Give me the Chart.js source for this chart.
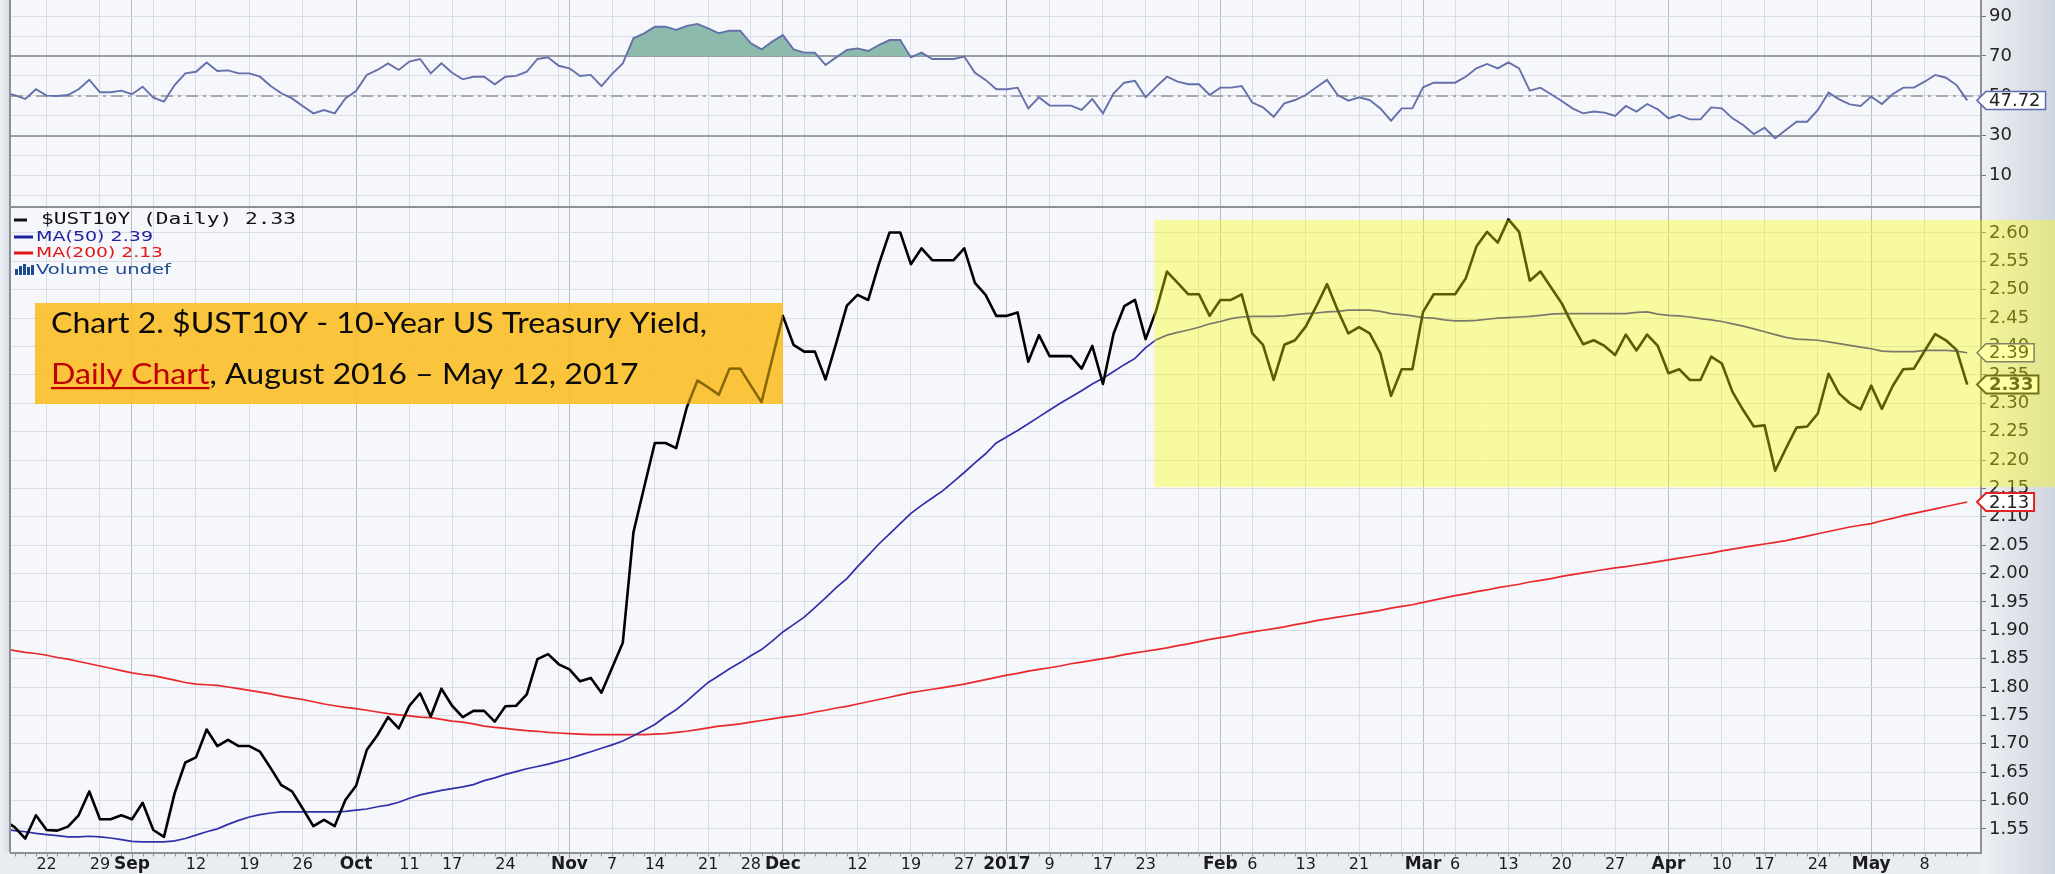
<!DOCTYPE html>
<html>
<head>
<meta charset="utf-8">
<style>
html,body{margin:0;padding:0;background:#e8ebf0;overflow:hidden}
#wrap{position:relative;width:2055px;height:874px}
canvas{display:block}
</style>
<script src="https://cdn.jsdelivr.net/npm/chart.js@4.4.1/dist/chart.umd.min.js"></script>
</head>
<body>
<div id="wrap"><canvas id="c" width="2055" height="874"></canvas></div>
<script>
// ---------------- DATA ----------------
const startDate = '2016-08-16';
const endDate = '2017-05-12';
const holidays = ['2016-09-05','2016-10-10','2016-11-11','2016-11-24','2016-12-26','2017-01-02','2017-01-16','2017-02-20','2017-04-14'];

const yieldValues = [
1.565,1.553,1.533,1.574,1.548,1.547,1.554,1.574,1.616,1.567,
1.567,1.574,1.567,1.596,1.548,1.536,1.613,1.667,1.676,1.725,
1.696,1.707,1.696,1.696,1.686,1.657,1.627,1.616,1.586,1.555,
1.566,1.555,1.601,1.626,1.689,1.715,1.747,1.727,1.767,1.789,
1.748,1.797,1.767,1.747,1.758,1.758,1.739,1.766,1.767,1.787,
1.849,1.858,1.840,1.831,1.810,1.816,1.790,1.834,1.878,2.073,
2.152,2.230,2.230,2.221,2.293,2.340,2.328,2.315,2.361,2.361,
2.331,2.302,2.378,2.454,2.403,2.391,2.391,2.342,2.406,2.472,
2.491,2.482,2.545,2.601,2.601,2.545,2.573,2.552,2.552,2.552,
2.573,2.512,2.491,2.454,2.454,2.460,2.373,2.420,2.383,2.383,
2.383,2.361,2.401,2.334,2.423,2.471,2.482,2.413,2.464,2.532,
2.512,2.492,2.492,2.454,2.482,2.482,2.492,2.423,2.403,2.341,
2.403,2.411,2.435,2.471,2.510,2.464,2.423,2.434,2.423,2.388,
2.313,2.360,2.360,2.461,2.492,2.492,2.492,2.520,2.576,2.602,
2.583,2.624,2.602,2.516,2.532,2.504,2.476,2.438,2.404,2.411,
2.401,2.385,2.421,2.393,2.421,2.401,2.353,2.360,2.341,2.341,
2.382,2.370,2.320,2.288,2.259,2.261,2.181,2.220,2.257,2.259,
2.282,2.352,2.317,2.300,2.289,2.331,2.290,2.330,2.360,2.361,
2.392,2.422,2.411,2.394,2.333];

const ma50Values = [
1.550,1.547,1.545,1.542,1.540,1.538,1.536,1.536,1.537,1.536,
1.534,1.531,1.528,1.527,1.527,1.527,1.529,1.533,1.539,1.545,
1.550,1.558,1.565,1.571,1.575,1.578,1.580,1.580,1.580,1.580,
1.580,1.580,1.581,1.583,1.585,1.589,1.592,1.597,1.604,1.610,
1.614,1.618,1.621,1.624,1.628,1.635,1.640,1.646,1.651,1.656,
1.660,1.664,1.669,1.674,1.680,1.686,1.692,1.698,1.705,1.714,
1.724,1.734,1.748,1.760,1.775,1.792,1.808,1.820,1.832,1.843,
1.855,1.866,1.881,1.897,1.910,1.923,1.940,1.957,1.975,1.991,
2.012,2.032,2.052,2.070,2.088,2.106,2.120,2.133,2.146,2.162,
2.178,2.195,2.211,2.230,2.241,2.252,2.264,2.276,2.288,2.300,
2.311,2.322,2.334,2.344,2.356,2.368,2.379,2.398,2.412,2.420,
2.425,2.429,2.434,2.440,2.444,2.449,2.452,2.453,2.453,2.453,
2.454,2.456,2.458,2.459,2.461,2.462,2.464,2.464,2.464,2.462,
2.458,2.456,2.454,2.451,2.450,2.447,2.445,2.445,2.446,2.448,
2.450,2.451,2.452,2.453,2.455,2.457,2.458,2.458,2.458,2.458,
2.458,2.458,2.458,2.460,2.461,2.457,2.455,2.454,2.452,2.449,
2.447,2.444,2.440,2.436,2.431,2.426,2.421,2.416,2.413,2.412,
2.411,2.408,2.405,2.402,2.399,2.396,2.392,2.391,2.391,2.391,
2.393,2.393,2.393,2.392,2.389];

const ma200Values = [
1.868,1.864,1.861,1.859,1.856,1.852,1.849,1.845,1.841,1.837,
1.833,1.829,1.825,1.822,1.820,1.816,1.812,1.808,1.805,1.804,
1.803,1.800,1.797,1.794,1.791,1.788,1.784,1.781,1.778,1.774,
1.770,1.767,1.764,1.762,1.759,1.756,1.753,1.751,1.749,1.747,
1.746,1.743,1.740,1.738,1.735,1.731,1.729,1.727,1.725,1.723,
1.722,1.720,1.719,1.718,1.717,1.716,1.716,1.716,1.716,1.716,
1.716,1.717,1.718,1.720,1.722,1.725,1.728,1.731,1.733,1.735,
1.738,1.741,1.744,1.747,1.749,1.752,1.756,1.759,1.763,1.766,
1.770,1.774,1.778,1.782,1.786,1.790,1.793,1.796,1.799,1.802,
1.805,1.809,1.813,1.817,1.821,1.824,1.828,1.831,1.834,1.837,
1.841,1.844,1.847,1.850,1.853,1.857,1.860,1.863,1.866,1.869,
1.873,1.876,1.880,1.884,1.887,1.890,1.894,1.897,1.900,1.903,
1.906,1.910,1.913,1.917,1.920,1.923,1.926,1.929,1.932,1.935,
1.939,1.942,1.945,1.949,1.953,1.957,1.961,1.964,1.968,1.971,
1.975,1.978,1.981,1.985,1.988,1.991,1.995,1.998,2.001,2.004,
2.007,2.010,2.012,2.015,2.018,2.021,2.024,2.027,2.030,2.033,
2.036,2.040,2.043,2.046,2.049,2.052,2.055,2.058,2.062,2.066,
2.070,2.074,2.078,2.082,2.085,2.088,2.093,2.097,2.102,2.106,
2.110,2.114,2.118,2.122,2.126];

const rsiValues = [
51.5,50.4,48.4,53.3,50.1,49.9,50.4,53.3,58.0,51.8,
51.8,52.6,50.8,54.6,49.1,47.1,55.4,61.3,62.1,66.7,
62.5,62.8,61.3,61.3,59.6,54.9,51.3,48.7,44.9,41.2,
42.9,41.2,48.7,52.4,60.5,63.0,66.3,63.0,67.2,68.5,
61.3,66.3,61.6,58.3,59.6,59.6,55.8,59.6,60.0,62.1,
68.5,69.3,65.1,63.8,60.0,60.5,54.9,61.0,66.3,78.9,
81.4,84.7,84.7,83.1,85.1,86.1,83.9,81.4,82.7,82.7,
76.4,73.3,77.2,80.5,73.3,71.7,71.7,65.5,69.3,73.0,
73.8,72.5,75.5,78.0,78.0,69.3,71.7,68.5,68.5,68.5,
69.7,61.6,58.0,53.3,53.3,54.1,43.7,49.3,45.1,45.1,
45.1,42.9,48.4,41.2,51.3,56.6,57.5,49.3,54.6,59.6,
57.1,55.8,55.8,50.4,54.1,54.1,54.9,46.6,44.2,39.5,
46.2,47.9,50.4,54.3,58.0,50.4,47.6,49.3,47.9,43.7,
37.5,43.7,43.7,54.3,56.6,56.6,56.6,59.6,63.8,66.0,
63.8,66.8,63.8,52.6,54.1,50.8,47.4,43.7,41.2,42.1,
41.6,39.9,44.9,42.1,45.9,43.2,38.7,40.4,38.2,38.2,
44.2,43.7,38.7,35.4,30.8,34.0,28.7,32.9,37.0,37.0,
42.9,51.6,48.2,45.7,44.9,49.6,45.9,50.8,54.1,54.1,
57.1,60.5,59.1,55.4,47.72];

const priceTickLabels = ['1.55','1.60','1.65','1.70','1.75','1.80','1.85','1.90','1.95','2.00','2.05','2.10','2.15','2.20','2.25','2.30','2.35','2.40','2.45','2.50','2.55','2.60'];
const rsiGridValues = [0,10,20,30,40,50,60,70,80,90];
const rsiTickLabels = ['10','30','50','70','90'];
const labelDates = ['2016-08-22','2016-08-29','2016-09-01','2016-09-12','2016-09-19','2016-09-26','2016-10-03','2016-10-11','2016-10-17','2016-10-24','2016-11-01','2016-11-07','2016-11-14','2016-11-21','2016-11-28','2016-12-01','2016-12-12','2016-12-19','2016-12-27','2017-01-03','2017-01-09','2017-01-17','2017-01-23','2017-02-01','2017-02-06','2017-02-13','2017-02-21','2017-03-01','2017-03-06','2017-03-13','2017-03-20','2017-03-27','2017-04-03','2017-04-10','2017-04-17','2017-04-24','2017-05-01','2017-05-08'];
const monthNames = ['Jan','Feb','Mar','Apr','May','Jun','Jul','Aug','Sep','Oct','Nov','Dec'];

// ---------------- CALENDAR ----------------
function buildDays(s, e, hol){
  const out=[]; let d=new Date(s+'T00:00:00Z'); const end=new Date(e+'T00:00:00Z');
  while(d<=end){ const wd=d.getUTCDay(); const iso=d.toISOString().slice(0,10);
    if(wd!==0&&wd!==6&&!hol.includes(iso)) out.push(iso);
    d=new Date(d.getTime()+86400000); }
  return out;
}
const days = buildDays(startDate, endDate, holidays);
const dow = iso => new Date(iso+'T00:00:00Z').getUTCDay();
const isMonthStart = i => i>0 && days[i].slice(0,7)!==days[i-1].slice(0,7);
const isWeekStart = i => i>0 && dow(days[i]) <= dow(days[i-1]);
const gridIdx = []; const monthSet = new Set();
days.forEach((d,i)=>{ if(isMonthStart(i)) monthSet.add(i); if(isMonthStart(i)||isWeekStart(i)) gridIdx.push(i); });
const xLabels = labelDates.map(d=>{
  const i=days.indexOf(d); const m=parseInt(d.slice(5,7),10)-1;
  let text, bold=false;
  if(isMonthStart(i)){ bold=true; text = m===0 ? d.slice(0,4) : monthNames[m]; }
  else text = String(parseInt(d.slice(8,10),10));
  return {i, text, bold};
});

const pts = arr => arr.map((v,i)=>({x:i,y:v}));

// ---------------- PLUGIN ----------------
const FONT = "'DejaVu Sans', Verdana, sans-serif";
function fitText(ctx, text, x, y, w){
  const m = ctx.measureText(text).width; ctx.save(); ctx.translate(x,y); ctx.scale(w/m,1); ctx.fillText(text,0,0); ctx.restore();
}
function tag(ctx, xr, y, text, stroke, bold, lw){
  ctx.save();
  ctx.font = (bold?'bold ':'')+"18px "+FONT;
  const tw = ctx.measureText(text).width;
  const x0 = xr - 4, x1 = xr + 5, x2 = x1 + tw + 8, h = 9;
  ctx.beginPath(); ctx.moveTo(x0,y); ctx.lineTo(x1,y-h); ctx.lineTo(x2,y-h); ctx.lineTo(x2,y+h); ctx.lineTo(x1,y+h); ctx.closePath();
  ctx.fillStyle='#ffffff'; ctx.fill(); ctx.lineWidth=lw; ctx.strokeStyle=stroke; ctx.stroke();
  ctx.fillStyle='#222'; ctx.textBaseline='middle'; ctx.textAlign='left'; ctx.fillText(text, x1+3, y+1);
  ctx.restore();
}
const noPad = s => { s.paddingTop = 0; s.paddingBottom = 0; };
const deco = {
  id:'deco',
  beforeDraw(chart){
    const ctx=chart.ctx, a=chart.chartArea, W=chart.width, H=chart.height;
    ctx.save();
    ctx.fillStyle='#e9ecf1'; ctx.fillRect(0,0,W,H);
    const g=ctx.createLinearGradient(a.right,0,W,0); g.addColorStop(0,'#eef0f4'); g.addColorStop(1,'#cfd5df');
    ctx.fillStyle=g; ctx.fillRect(a.right,0,W-a.right,H);
    const gl=ctx.createLinearGradient(0,0,a.left,0); gl.addColorStop(0,'#eceff4'); gl.addColorStop(1,'#d4d9e1');
    ctx.fillStyle=gl; ctx.fillRect(0,0,a.left,a.bottom);
    ctx.fillStyle='#f5f7fb'; ctx.fillRect(a.left,a.top,a.right-a.left,a.bottom-a.top);
    ctx.restore();
  },
  beforeDatasetsDraw(chart){
    const ctx=chart.ctx, a=chart.chartArea, r=chart.scales.yRsi;
    ctx.save();
    ctx.strokeStyle='#9b9ea4'; ctx.lineWidth=2;
    [70,30].forEach(v=>{ const y=Math.round(r.getPixelForValue(v)); ctx.beginPath(); ctx.moveTo(a.left,y); ctx.lineTo(a.right,y); ctx.stroke(); });
    ctx.setLineDash([12,5,3,5]); ctx.strokeStyle='#a5a8ae';
    const y5=Math.round(r.getPixelForValue(50)); ctx.beginPath(); ctx.moveTo(a.left,y5); ctx.lineTo(a.right,y5); ctx.stroke();
    ctx.restore();
  },
  afterDatasetsDraw(chart){
    const ctx=chart.ctx, a=chart.chartArea, x=chart.scales.x, r=chart.scales.yRsi;
    ctx.save();
    ctx.strokeStyle='#8d9096'; ctx.lineWidth=2;
    ctx.beginPath(); ctx.moveTo(a.left, r.bottom); ctx.lineTo(a.right, r.bottom); ctx.stroke();
    ctx.beginPath(); ctx.moveTo(a.left-1, 0); ctx.lineTo(a.left-1, a.bottom); ctx.stroke();
    ctx.strokeStyle='#8d9096'; ctx.lineWidth=1;
    days.forEach((d,i)=>{ const px=x.getPixelForValue(i); if(px<a.left||px>a.right) return;
      ctx.beginPath(); ctx.moveTo(Math.round(px)+0.5, a.bottom+1); ctx.lineTo(Math.round(px)+0.5, a.bottom+ (monthSet.has(i)?6:4)); ctx.stroke(); });
    ctx.fillStyle='#1b1b1b'; ctx.textAlign='center'; ctx.textBaseline='middle';
    xLabels.forEach(l=>{ ctx.font=(l.bold?'bold 17px ':'16px ')+FONT; ctx.fillText(l.text, x.getPixelForValue(l.i), 865); });
    ctx.restore();
  },
  afterDraw(chart){
    const ctx=chart.ctx, a=chart.chartArea, x=chart.scales.x, y=chart.scales.y, r=chart.scales.yRsi, W=chart.width;
    const last = arr => arr[arr.length-1];
    tag(ctx, a.right, r.getPixelForValue(last(rsiValues)), last(rsiValues).toFixed(2), '#5d6bb0', false, 1.5);
    tag(ctx, a.right, y.getPixelForValue(last(ma50Values)), last(ma50Values).toFixed(2), '#3b3b9e', false, 1.5);
    tag(ctx, a.right, y.getPixelForValue(last(yieldValues)), last(yieldValues).toFixed(2), '#222222', true, 2);
    tag(ctx, a.right, y.getPixelForValue(last(ma200Values)), last(ma200Values).toFixed(2), '#e02424', false, 2);
    ctx.save();
    ctx.textBaseline='middle'; ctx.textAlign='left';
    const leg = [
      {t:'$UST10Y (Daily) '+last(yieldValues).toFixed(2), c:'#111', f:"15px 'DejaVu Sans Mono', monospace", x:41, w:255, y:220, dash:'#111'},
      {t:'MA(50) '+last(ma50Values).toFixed(2), c:'#2020a0', f:"14px "+FONT, x:36, w:117, y:237, dash:'#2020a0'},
      {t:'MA(200) '+last(ma200Values).toFixed(2), c:'#e01818', f:"14px "+FONT, x:36, w:127, y:253, dash:'#e01818'},
      {t:'Volume undef', c:'#1d4b8f', f:"14px "+FONT, x:36, w:135, y:270, dash:null}
    ];
    leg.forEach(l=>{
      if(l.dash){ ctx.strokeStyle=l.dash; ctx.lineWidth=3; ctx.beginPath(); ctx.moveTo(14,l.y); ctx.lineTo(l.x===41?27:33,l.y); ctx.stroke(); }
      else { ctx.fillStyle='#1d4b8f'; [[15,6],[19,9],[23,11],[27,8],[31,10]].forEach(b=>ctx.fillRect(b[0], l.y+5-b[1], 3, b[1])); }
      ctx.fillStyle=l.c; ctx.font=l.f; fitText(ctx, l.t, l.x, l.y, l.w);
    });
    ctx.restore();
    ctx.save();
    const yl = x.getPixelForValue(107.8), yt = y.getPixelForValue(2.623), yb = y.getPixelForValue(2.1524);
    ctx.fillStyle='rgba(255,255,0,0.36)'; ctx.fillRect(yl, yt, W-yl, yb-yt);
    ctx.restore();
    ctx.save();
    const bx=35, by=303, bw=748, bh=101;
    ctx.fillStyle='rgba(250,188,28,0.86)'; ctx.fillRect(bx,by,bw,bh);
    ctx.beginPath(); ctx.rect(bx,by,bw,bh); ctx.clip();
    const meta = chart.getDatasetMeta(0);
    ctx.strokeStyle='rgba(70,52,0,0.55)'; ctx.lineWidth=2.4; ctx.lineJoin='round';
    ctx.beginPath(); meta.data.forEach((p,i)=>{ if(i===0) ctx.moveTo(p.x,p.y); else ctx.lineTo(p.x,p.y); }); ctx.stroke();
    ctx.restore();
    ctx.save();
    ctx.textBaseline='alphabetic'; ctx.textAlign='left';
    ctx.font = "28px Lato, 'Open Sans', sans-serif";
    const l1 = 'Chart 2. $UST10Y - 10-Year US Treasury Yield,';
    const sx = 656 / ctx.measureText(l1).width;
    ctx.translate(51, 0); ctx.scale(sx, 1);
    ctx.fillStyle='#0a0a0a'; ctx.fillText(l1, 0, 333);
    const p1 = 'Daily Chart', p2 = ', August 2016 \u2013 May 12, 2017';
    const w1 = ctx.measureText(p1).width;
    ctx.fillStyle='#c00000'; ctx.fillText(p1, 0, 384);
    ctx.fillRect(0, 387, w1, 2.2);
    ctx.fillStyle='#0a0a0a'; ctx.fillText(p2, w1, 384);
    ctx.restore();
  }
};

// ---------------- CHART ----------------
Chart.defaults.font.family = FONT;
new Chart(document.getElementById('c'), {
  type:'line',
  data:{ datasets:[
    {label:'$UST10Y', data:pts(yieldValues), yAxisID:'y', borderColor:'#000000', borderWidth:2.6, pointRadius:0, borderJoinStyle:'round', fill:false},
    {label:'MA(50)', data:pts(ma50Values), yAxisID:'y', borderColor:'#3030a8', borderWidth:1.7, pointRadius:0, fill:false},
    {label:'MA(200)', data:pts(ma200Values), yAxisID:'y', borderColor:'#e8282a', borderWidth:1.7, pointRadius:0, fill:false},
    {label:'RSI(14)', data:pts(rsiValues), yAxisID:'yRsi', borderColor:'#6470aa', borderWidth:1.9, pointRadius:0,
      fill:{target:{value:70}, above:'#8cbaac', below:'rgba(0,0,0,0)'}},
    {label:'RSI-os', data:pts(rsiValues), yAxisID:'yRsi', borderWidth:0, borderColor:'rgba(0,0,0,0)', pointRadius:0,
      fill:{target:{value:30}, above:'rgba(0,0,0,0)', below:'#8cbaac'}}
  ]},
  options:{
    responsive:false, animation:false, devicePixelRatio:1, events:[],
    layout:{padding:{left:11, top:0, right:0, bottom:0}},
    plugins:{legend:{display:false}, tooltip:{enabled:false}},
    scales:{
      x:{ type:'linear', min:0.6626, max:185.29,
        afterBuildTicks:s=>{ s.ticks = gridIdx.map(v=>({value:v})); },
        afterFit:s=>{ s.height = 21.5; s.paddingLeft = 0; s.paddingRight = 0; },
        ticks:{display:false},
        grid:{ color:c=> (c.tick && monthSet.has(c.tick.value)) ? '#b7bbc5' : '#dadde5', lineWidth:1, drawTicks:false },
        border:{display:true, color:'#8d9096', width:2}
      },
      yRsi:{ position:'right', stack:'panels', stackWeight:207, min:-5.8, max:98.11,
        afterBuildTicks:s=>{ s.ticks = rsiGridValues.map(v=>({value:v})); },
        afterFit:s=>{ s.width = 74; noPad(s); },
        ticks:{ autoSkip:false, padding:3, color:'#222', font:{size:18}, callback:v=> rsiTickLabels.includes(String(v)) ? String(v) : '' },
        grid:{ color:'#dadde5', tickLength:5, tickColor:c=> (c.tick && rsiTickLabels.includes(String(c.tick.value))) ? '#777' : 'rgba(0,0,0,0)' },
        border:{display:true, color:'#8d9096', width:2}
      },
      y:{ position:'right', stack:'panels', stackWeight:645.5, min:1.5084, max:2.6458,
        afterBuildTicks:s=>{ s.ticks = priceTickLabels.map(t=>({value:parseFloat(t)})); },
        afterFit:s=>{ s.width = 74; noPad(s); },
        ticks:{ autoSkip:false, padding:3, color:'#222', font:{size:18}, callback:(v,i)=> priceTickLabels[i] },
        grid:{ color:'#dadde5', tickLength:5, tickColor:'#777' },
        border:{display:true, color:'#8d9096', width:2}
      }
    }
  },
  plugins:[deco]
});
</script>
</body>
</html>
